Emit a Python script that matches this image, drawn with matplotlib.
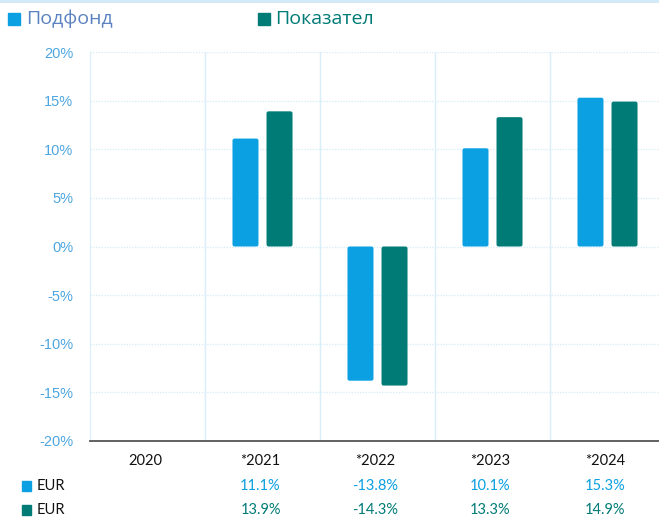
import numpy as np
import matplotlib.pyplot as plt
from matplotlib.patches import Rectangle, FancyBboxPatch
from matplotlib.lines import Line2D

years = ['2020', '*2021', '*2022', '*2023', '*2024']
fund = [np.nan, 11.1, -13.8, 10.1, 15.3]
index = [np.nan, 13.9, -14.3, 13.3, 14.9]
fund_labels = ['', '11.1%', '-13.8%', '10.1%', '15.3%']
index_labels = ['', '13.9%', '-14.3%', '13.3%', '14.9%']

c_fund = '#0AA0E2'
c_index = '#007B76'
c_grid = '#D9EEF9'

fig = plt.figure(figsize=(6.59, 5.18), dpi=100)
ax = fig.add_axes([90/659, 77/518, 575/659, 389/518])

x = np.arange(len(years))
w = 0.226
off = 0.148
bars = list(ax.bar(x - off, fund, width=w, color=c_fund, zorder=3)) + \
       list(ax.bar(x + off, index, width=w, color=c_index, zorder=3))

# swap plain bars for slightly rounded ones
for b in bars:
    h = b.get_height()
    if np.isnan(h):
        continue
    y0 = min(b.get_y(), b.get_y() + h)
    fb = FancyBboxPatch((b.get_x(), y0), b.get_width(), abs(h),
                        boxstyle='round,pad=0,rounding_size=0.018',
                        mutation_aspect=11.5, facecolor=b.get_facecolor(),
                        edgecolor='none', zorder=3)
    ax.add_patch(fb)
    b.set_visible(False)

ax.set_xlim(-0.5, 4.5)
ax.set_ylim(-20, 20)
ax.set_yticks(range(-20, 21, 5))
ax.set_yticklabels([f'{v}%' for v in range(-20, 21, 5)], color='#4DA6E0',
                   fontsize=10.5, family='Liberation Sans')
ax.tick_params(axis='y', length=0, pad=12)
ax.set_xticks([])
for y in range(-15, 21, 5):
    ax.axhline(y, color=c_grid, lw=1, ls=(0, (1, 1)), zorder=1)
for bd in np.arange(0.5, 4.5, 1):
    ax.axvline(bd, color=c_grid, lw=1, zorder=1)
for s in ['top', 'right']:
    ax.spines[s].set_visible(False)
ax.spines['left'].set_color(c_grid)
ax.spines['bottom'].set_color('#555555')
ax.spines['bottom'].set_linewidth(1.3)

# category labels and table rows
for i, yr in enumerate(years):
    xf = (88 + 115 * (i + 0.5)) / 659
    fig.text(xf, 1 - 461/518, yr, ha='center', va='center', fontsize=10.5,
             family='Lato', color='#111111')
    fig.text(xf, 1 - 486/518, fund_labels[i], ha='center', va='center',
             fontsize=10.5, family='Lato', color=c_fund)
    fig.text(xf, 1 - 510/518, index_labels[i], ha='center', va='center',
             fontsize=10.5, family='Lato', color=c_index)

for yy, col in [(486, c_fund), (510, c_index)]:
    fig.patches.append(Rectangle((22/659, 1 - (yy + 5)/518), 9/659, 10/518,
                                 color=col, transform=fig.transFigure))
    fig.text(37/659, 1 - yy/518, 'EUR', ha='left', va='center', fontsize=10.5,
             family='Lato', color='#111111')

# legend
fig.patches.append(Rectangle((8/659, 1 - 25/518), 12/659, 12/518,
                             color=c_fund, transform=fig.transFigure))
fig.text(26/659, 1 - 19/518, 'Подфонд', ha='left', va='center', fontsize=14,
         family='Open Sans', color='#5B82C0')
fig.patches.append(Rectangle((258/659, 1 - 25/518), 12/659, 12/518,
                             color=c_index, transform=fig.transFigure))
fig.text(275/659, 1 - 19/518, 'Показател', ha='left', va='center', fontsize=14,
         family='Open Sans', color=c_index)

fig.lines.append(Line2D([0, 1], [1 - 1/518, 1 - 1/518], color='#CFE9F7', lw=2,
                        transform=fig.transFigure))

fig.savefig('out.png', dpi=100)
